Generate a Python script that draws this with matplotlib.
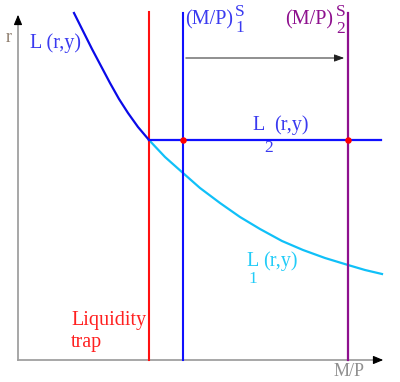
import matplotlib
matplotlib.use("Agg")
import matplotlib.pyplot as plt

# Data (diagram units: x = M/P, y = r; y grows downward)
L_x = [74, 83, 92, 101, 110, 119, 128, 138, 149]
L_y = [13, 31, 49, 66, 83, 99, 113, 127, 140]
L1_x = [149, 165, 183, 200, 220, 240, 260, 282, 303, 325, 348, 365, 382]
L1_y = [140, 157, 173, 188, 203, 217, 229, 241, 250, 258, 265, 270, 274]
trap_x = 149
ms1_x = 183
ms2_x = 348
L2_r = 140
L2_end = 381
top_r = 13
origin = (18, 360)

plt.rcParams['font.family'] = ['Liberation Serif', 'DejaVu Serif']

fig = plt.figure(figsize=(4.0, 3.82), dpi=100)
ax = fig.add_axes([0, 0, 1, 1])
ax.set_xlim(0, 400)
ax.set_ylim(382, 0)
ax.axis('off')

gray = '#a0a0a0'
# axes
ax.plot([origin[0], origin[0]], [origin[1], 20], color=gray, lw=1.3, zorder=1)
ax.plot([origin[0], 376], [origin[1], origin[1]], color=gray, lw=1.3, zorder=1)
ax.annotate('', xy=(origin[0], 12), xytext=(origin[0], 24),
            arrowprops=dict(arrowstyle='-|>,head_length=0.6,head_width=0.25', color='black', lw=0.8))
ax.annotate('', xy=(386, origin[1]), xytext=(374, origin[1]),
            arrowprops=dict(arrowstyle='-|>,head_length=0.6,head_width=0.25', color='black', lw=0.8))

# vertical lines
ax.plot([trap_x, trap_x], [12, origin[1]], color='#ff1010', lw=1.5, zorder=3)
ax.plot([ms1_x, ms1_x], [top_r, origin[1]], color='#1010ff', lw=1.5, zorder=3)
ax.plot([ms2_x, ms2_x], [top_r, origin[1]], color='#8e108e', lw=1.6, zorder=3)

# curves
ax.plot(L1_x, L1_y, color='#10c0f8', lw=1.6, zorder=2, solid_joinstyle='round')
ax.plot(L_x, L_y, color='#0a0ae8', lw=1.6, zorder=4, solid_joinstyle='round')
ax.plot([trap_x, L2_end], [L2_r, L2_r], color='#1010ff', lw=1.6, zorder=4)

# shift arrow
ax.annotate('', xy=(ms2_x - 1, 58), xytext=(ms1_x, 58),
            arrowprops=dict(arrowstyle='-|>,head_length=0.6,head_width=0.22', color='#202020', lw=0.7))

# dots
ax.scatter([ms1_x, ms2_x], [L2_r, L2_r], s=22, color='#ff0000', zorder=6, linewidths=0)

fs = 14.5
sfs = 12.5
ax.text(6, 37, 'r', color='#8c7b6b', fontsize=13, ha='left', va='center')
ax.text(30, 43, 'L (r,y)', color='#3a3af0', fontsize=fs, ha='left', va='center')

ax.text(185, 20, '(M/P)', color='#3a3af0', fontsize=fs, ha='left', va='center')
ax.text(235, 12, 'S', color='#3a3af0', fontsize=sfs, ha='left', va='center')
ax.text(235, 28, '1', color='#3a3af0', fontsize=sfs, ha='left', va='center')

ax.text(285, 20, '(M/P)', color='#8e108e', fontsize=fs, ha='left', va='center')
ax.text(336, 12, 'S', color='#8e108e', fontsize=sfs, ha='left', va='center')
ax.text(336, 29, '2', color='#8e108e', fontsize=sfs, ha='left', va='center')

ax.text(252, 125, 'L', color='#3a3af0', fontsize=fs, ha='left', va='center')
ax.text(264, 148, '2', color='#3a3af0', fontsize=sfs, ha='left', va='center')
ax.text(274, 125, '(r,y)', color='#3a3af0', fontsize=fs, ha='left', va='center')

ax.text(246, 261, 'L', color='#22ccf8', fontsize=fs, ha='left', va='center')
ax.text(248, 279, '1', color='#22ccf8', fontsize=sfs, ha='left', va='center')
ax.text(263, 261, '(r,y)', color='#22ccf8', fontsize=fs, ha='left', va='center')

ax.text(71, 320, 'Liquidity', color='#ff2020', fontsize=fs, ha='left', va='center')
ax.text(71, 343, 'trap', color='#ff2020', fontsize=fs, ha='left', va='center')

ax.text(334, 372, 'M/P', color='#909090', fontsize=13, ha='left', va='center')

fig.savefig('out.png', dpi=100)
